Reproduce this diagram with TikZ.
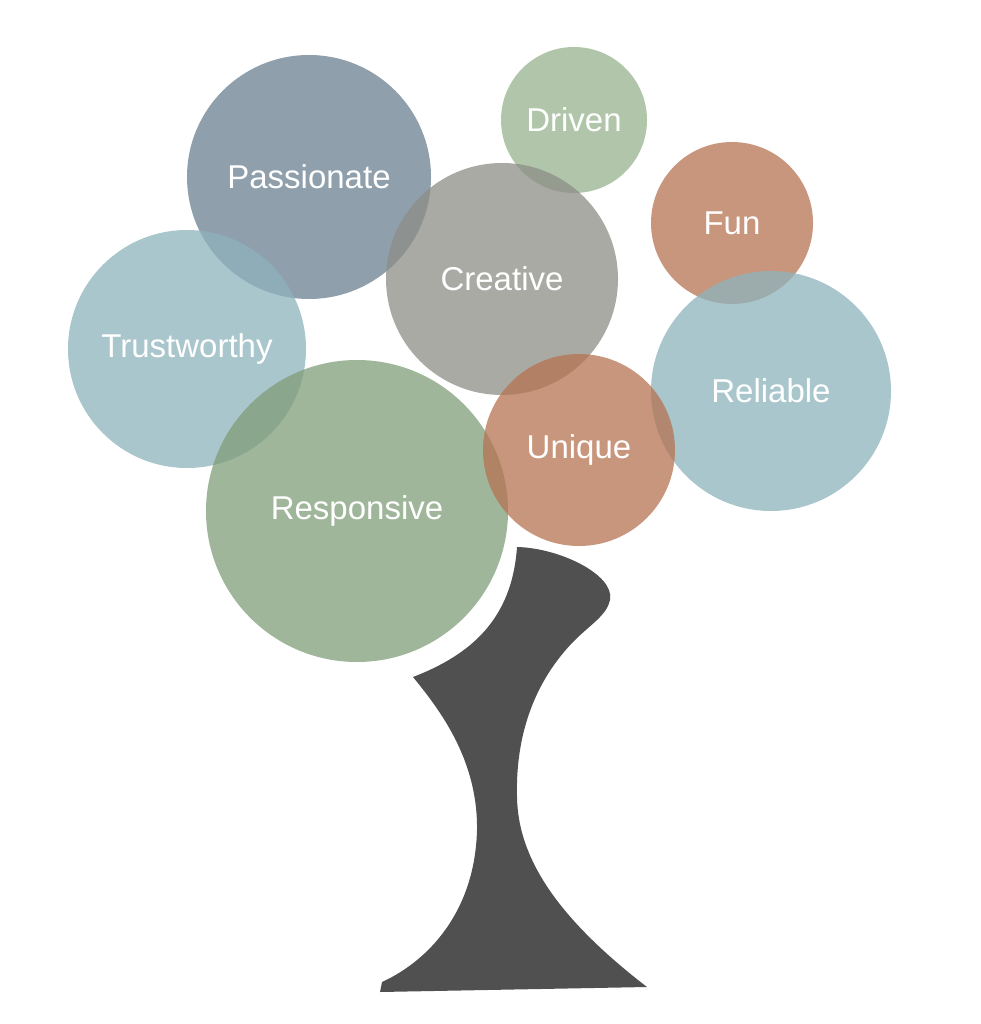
\documentclass[tikz,border=0pt]{standalone}
\usepackage{fontspec}
\setmainfont{Liberation Sans}
\definecolor{slate}{RGB}{105,128,144}
\definecolor{teal}{RGB}{142,179,188}
\definecolor{sage}{RGB}{128,157,121}
\definecolor{lsage}{RGB}{150,178,142}
\definecolor{stone}{RGB}{141,141,134}
\definecolor{clay}{RGB}{181,115,81}
\definecolor{trunk}{RGB}{80,80,80}
\begin{document}
\begin{tikzpicture}[x=1pt,y=-1pt,
  bub/.style={circle,fill opacity=0.75,text opacity=1,text=white,inner sep=0pt,font=\fontsize{33}{36}\selectfont}]
\useasboundingbox (0,0) rectangle (980,1024);
\fill[trunk] (517,547) .. controls (560,548) and (615,575) .. (610,600)
  .. controls (607,615) and (590,625) .. (575,640)
  .. controls (545,670) and (515,720) .. (517,797)
  .. controls (518,860) and (560,920) .. (647,987)
  -- (380,992) -- (382,982)
  .. controls (430,960) and (475,910) .. (477,830)
  .. controls (478,760) and (440,710) .. (413,677)
  .. controls (470,655) and (512,620) .. (517,547) -- cycle;
\node[bub,fill=slate,minimum size=244pt] (passionate) at (309,177) {Passionate};
\node[bub,fill=teal,minimum size=238pt] (trust) at (187,349) {Trustworthy};
\node[bub,fill=lsage,minimum size=146pt] (driven) at (574,120) {Driven};
\node[bub,fill=stone,minimum size=232pt] (creative) at (502,279) {Creative};
\node[bub,fill=clay,minimum size=162pt] (fun) at (732,223) {Fun};
\node[bub,fill=teal,minimum size=240pt] (reliable) at (771,391) {Reliable};
\node[bub,fill=sage,minimum size=302pt] (responsive) at (357,511) {Responsive};
\node[bub,fill=clay,minimum size=192pt] (unique) at (579,450) {Unique};
\end{tikzpicture}
\end{document}
